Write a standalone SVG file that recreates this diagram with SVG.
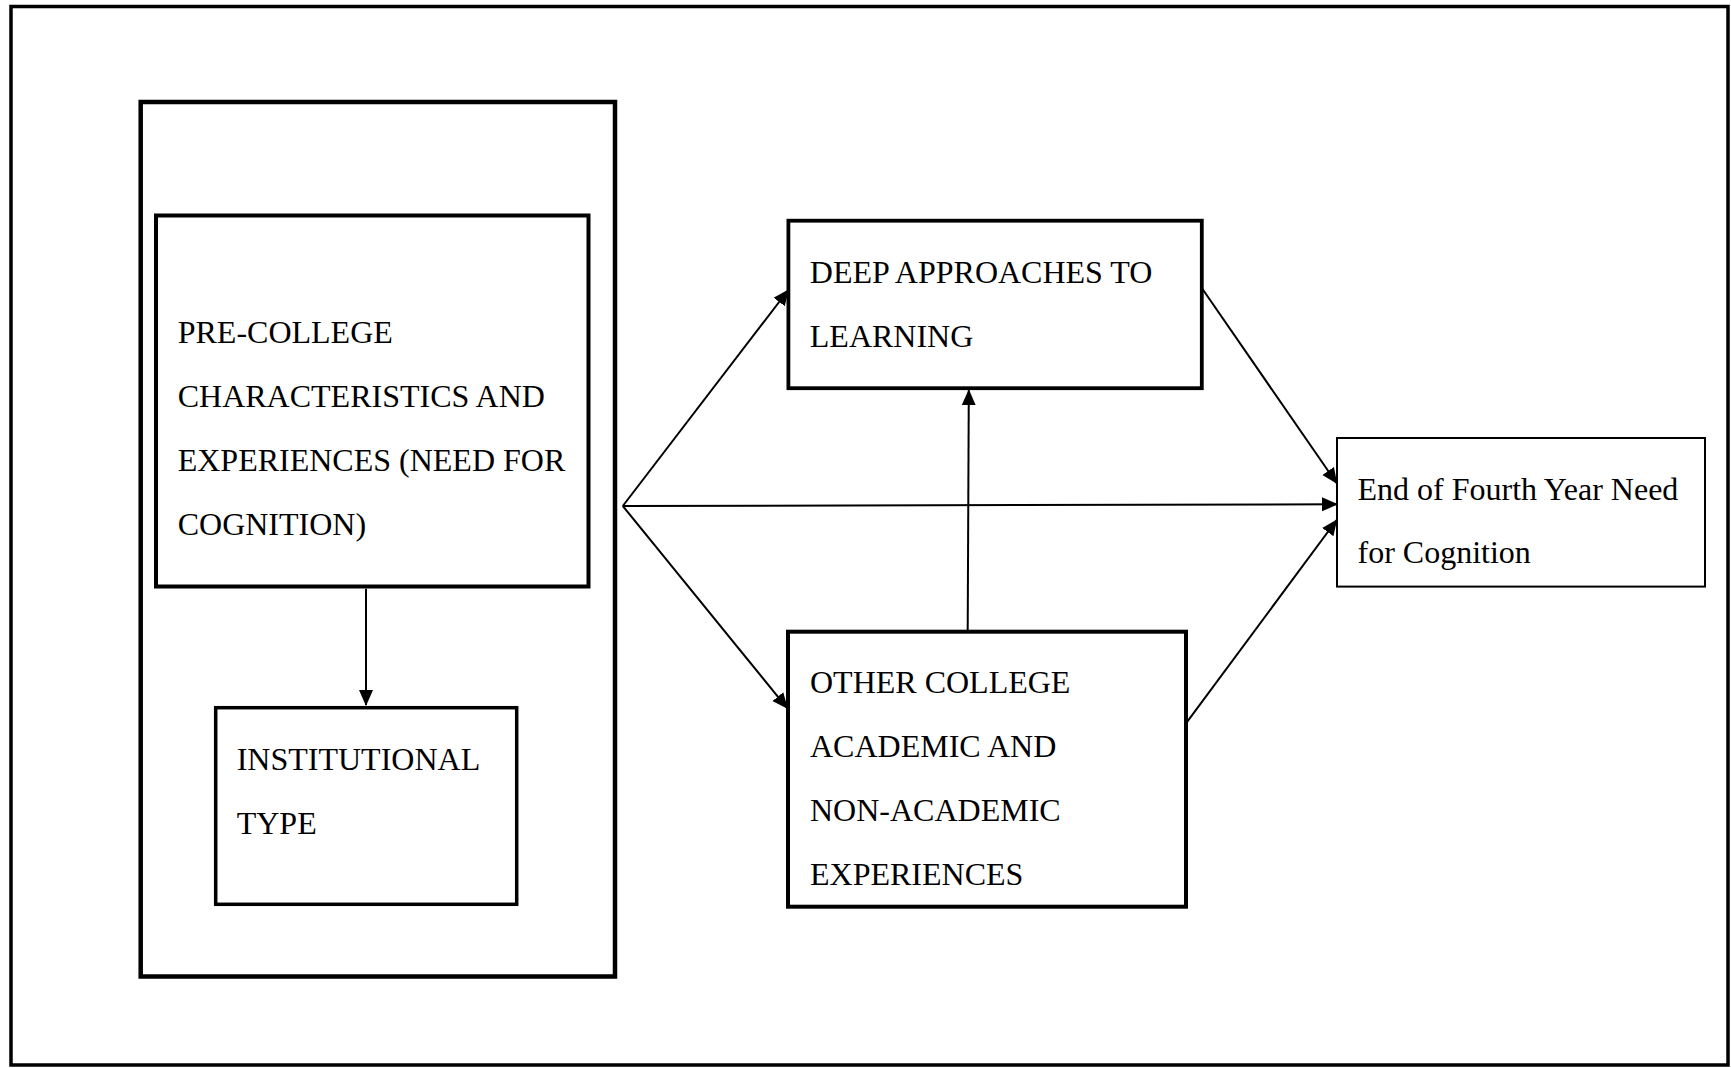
<svg xmlns="http://www.w3.org/2000/svg" width="1731" height="1068" viewBox="0 0 1731 1068">
<style>
.box{fill:#fff;stroke:#000}
.lbl{font-family:"Liberation Serif","Times New Roman",serif;font-size:32px;fill:#000}
.conn{stroke:#000;stroke-width:2;fill:none}
</style>
<defs>
<marker id="ah" markerUnits="userSpaceOnUse" markerWidth="16" markerHeight="16" viewBox="0 0 16 16" refX="15" refY="8" orient="auto">
<path d="M0,1 L16,8 L0,15 Z" fill="#000"/>
</marker>
</defs>
<rect x="0" y="0" width="1731" height="1068" fill="#fff"/>
<rect id="frame" x="11" y="6.5" width="1717" height="1058.5" fill="none" stroke="#000" stroke-width="3.5"/>
<g id="pre-college-group">
<rect class="box" x="140.7" y="102" width="474.3" height="874.5" stroke-width="4.5"/>
</g>
<g id="pre-college">
<rect class="box" x="156" y="215.5" width="432.5" height="371" stroke-width="4"/>
<text class="lbl" x="177.7" y="342.5">PRE-COLLEGE</text>
<text class="lbl" x="177.7" y="406.5">CHARACTERISTICS AND</text>
<text class="lbl" x="177.7" y="470.5">EXPERIENCES (NEED FOR</text>
<text class="lbl" x="177.7" y="534.5">COGNITION)</text>
</g>
<g id="institutional">
<rect class="box" x="215.7" y="707.7" width="301" height="196.6" stroke-width="3.5"/>
<text class="lbl" x="236.7" y="770">INSTITUTIONAL</text>
<text class="lbl" x="236.7" y="834">TYPE</text>
</g>
<g id="deep">
<rect class="box" x="788.4" y="220.7" width="413.4" height="167.5" stroke-width="3.8"/>
<text class="lbl" x="809.8" y="283.3">DEEP APPROACHES TO</text>
<text class="lbl" x="809.8" y="347.3">LEARNING</text>
</g>
<g id="other">
<rect class="box" x="788" y="631.7" width="398" height="275" stroke-width="4"/>
<text class="lbl" x="810" y="693.3">OTHER COLLEGE</text>
<text class="lbl" x="810" y="757.3">ACADEMIC AND</text>
<text class="lbl" x="810" y="821.3">NON-ACADEMIC</text>
<text class="lbl" x="810" y="885.3">EXPERIENCES</text>
</g>
<g id="end">
<rect class="box" x="1337" y="438" width="368" height="148.6" stroke-width="2"/>
<text class="lbl" x="1357.5" y="500">End of Fourth Year Need</text>
<text class="lbl" x="1357.5" y="563">for Cognition</text>
</g>
<g id="connectors">
<line class="conn" x1="366" y1="588.7" x2="366" y2="705" marker-end="url(#ah)"/>
<line class="conn" x1="622.8" y1="506" x2="788.3" y2="290" marker-end="url(#ah)"/>
<line class="conn" x1="622.8" y1="506" x2="787.3" y2="708.3" marker-end="url(#ah)"/>
<line class="conn" x1="622.8" y1="506" x2="1337" y2="504.3" marker-end="url(#ah)"/>
<line class="conn" x1="967.7" y1="630" x2="968.8" y2="390.2" marker-end="url(#ah)"/>
<line class="conn" x1="1201.8" y1="288" x2="1336.7" y2="483.3" marker-end="url(#ah)"/>
<line class="conn" x1="1187.3" y1="721.7" x2="1336.7" y2="520" marker-end="url(#ah)"/>
</g>
</svg>
